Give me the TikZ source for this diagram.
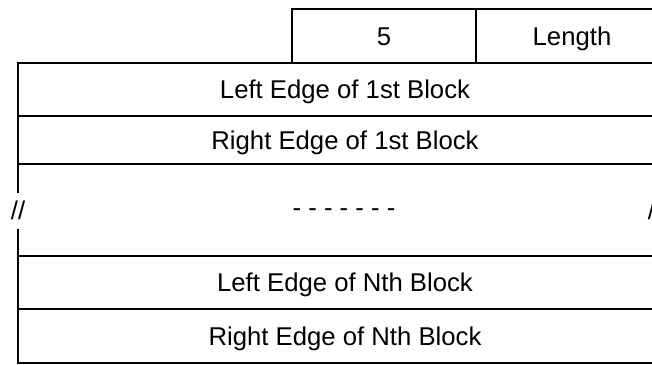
\documentclass[tikz,border=0pt]{standalone}
\usepackage{fontspec}
\setmainfont{Liberation Sans}
\begin{document}
\begin{tikzpicture}[x=1pt,y=-1pt,
  frame/.style={line width=1.8pt,line cap=rect},
  lbl/.style={inner sep=0pt,anchor=base,font=\fontsize{25.7}{30}\selectfont},
  brk/.style={inner sep=0pt,font=\fontsize{25.7}{30}\selectfont}]
\useasboundingbox (0,0) rectangle (652,364);
\clip (0,0) rectangle (652,364);
% top box
\draw[frame] (292,63) -- (292,9) -- (670,9) -- (670,63);
\draw[frame] (476,9) -- (476,63);
% horizontal lines
\foreach \y in {63,116,164,256,309,363}{
  \draw[frame] (18,\y) -- (670,\y);
}
% vertical lines with gaps
\draw[frame] (18,63) -- (18,192);
\draw[frame] (18,230) -- (18,363);
\draw[frame] (670,63) -- (670,192);
\draw[frame] (670,230) -- (670,363);
% texts
\node[lbl] (five) at (384,45) {5};
\node[lbl] (len) at (572,45) {Length};
\node[lbl] (l1) at (345,98.5) {Left Edge of 1st Block};
\node[lbl] (r1) at (345,149) {Right Edge of 1st Block};
\node[brk] (dots) at (344,213) {- - - - - - -};
\node[lbl] (ln) at (345,291.5) {Left Edge of Nth Block};
\node[lbl] (rn) at (345,345) {Right Edge of Nth Block};
\node[brk] (bl) at (18,210) {//};
\node[brk] (br) at (655,210) {//};
\end{tikzpicture}
\end{document}
